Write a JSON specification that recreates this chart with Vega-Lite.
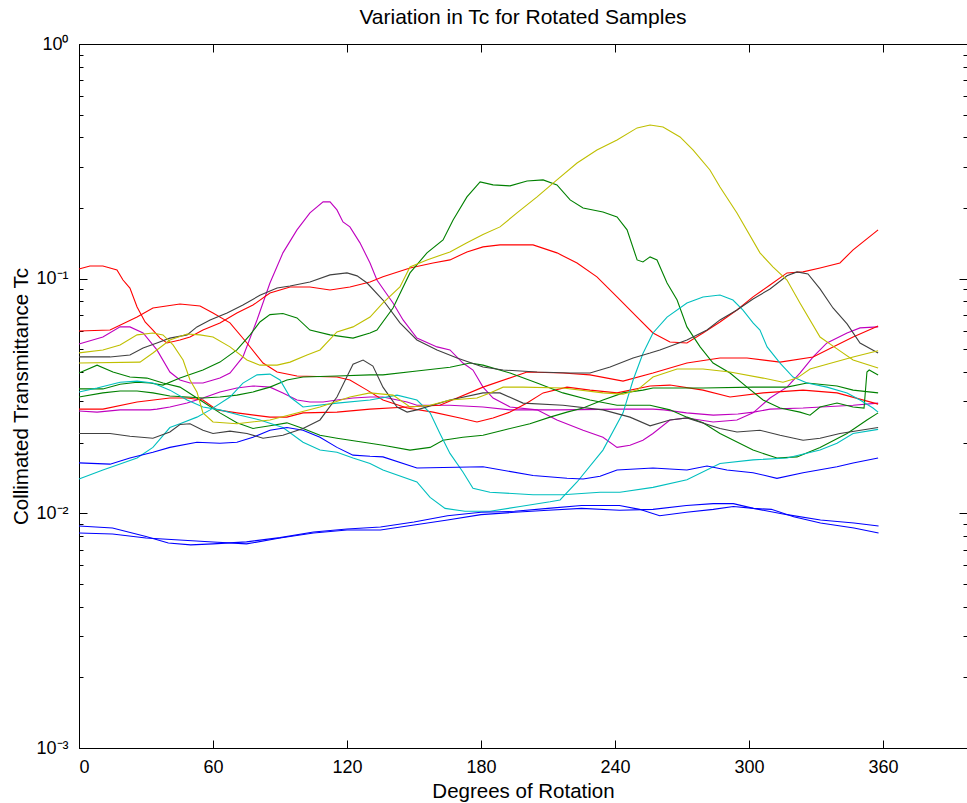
{
"$schema": "https://vega.github.io/schema/vega-lite/v6.json",
"width": 888, "height": 704,
"autosize": {"type": "none"},
"padding": {"left": 79, "top": 44, "right": 0, "bottom": 55},
"background": "white",
"config": {
 "view": {"stroke": "black", "strokeWidth": 1},
 "font": "Liberation Sans",
 "axis": {"grid": false, "domainColor": "black", "tickColor": "black", "labelColor": "black", "titleColor": "black", "labelFont": "Liberation Sans", "titleFont": "Liberation Sans", "labelFontSize": 18, "titleFontSize": 20.5, "titleFontWeight": "normal"}
},
"title": {"text": "Variation in Tc for Rotated Samples", "fontSize": 21, "fontWeight": "normal", "color": "black", "font": "Liberation Sans", "offset": 7},
"datasets": {"d": [
{"s":"m1","x":0,"y":0.0527},{"s":"m1","x":10.7,"y":0.0564},{"s":"m1","x":18.4,"y":0.0623},{"s":"m1","x":22.8,"y":0.0623},{"s":"m1","x":28.7,"y":0.0587},{"s":"m1","x":34.9,"y":0.0497},{"s":"m1","x":40.7,"y":0.04},{"s":"m1","x":45.2,"y":0.037},{"s":"m1","x":49.7,"y":0.0359},{"s":"m1","x":55.5,"y":0.0359},{"s":"m1","x":63.1,"y":0.0377},{"s":"m1","x":67.6,"y":0.0396},{"s":"m1","x":73.4,"y":0.0464},{"s":"m1","x":79.7,"y":0.0667},{"s":"m1","x":85.5,"y":0.0958},{"s":"m1","x":91.3,"y":0.1288},{"s":"m1","x":97.6,"y":0.1614},{"s":"m1","x":103.4,"y":0.1906},{"s":"m1","x":109.3,"y":0.2124},{"s":"m1","x":112.4,"y":0.2124},{"s":"m1","x":115.5,"y":0.1963},{"s":"m1","x":118.2,"y":0.1745},{"s":"m1","x":121.3,"y":0.1662},{"s":"m1","x":125.8,"y":0.1421},{"s":"m1","x":130.3,"y":0.1167},{"s":"m1","x":133.4,"y":0.0987},{"s":"m1","x":140.6,"y":0.0788},{"s":"m1","x":145.1,"y":0.0667},{"s":"m1","x":151.3,"y":0.0558},{"s":"m1","x":160.3,"y":0.0512},{"s":"m1","x":166.1,"y":0.0497},{"s":"m1","x":171.9,"y":0.0437},{"s":"m1","x":176.4,"y":0.0408},{"s":"m1","x":180.9,"y":0.0345},{"s":"m1","x":185.4,"y":0.031},{"s":"m1","x":193,"y":0.0284},{"s":"m1","x":205.1,"y":0.0276},{"s":"m1","x":214,"y":0.025},{"s":"m1","x":225.7,"y":0.0226},{"s":"m1","x":234.6,"y":0.0211},{"s":"m1","x":240.9,"y":0.0191},{"s":"m1","x":246.7,"y":0.0195},{"s":"m1","x":252.5,"y":0.0205},{"s":"m1","x":257,"y":0.0219},{"s":"m1","x":264.6,"y":0.025},{"s":"m1","x":272.2,"y":0.0255},{"s":"m1","x":283.9,"y":0.0245},{"s":"m1","x":294.6,"y":0.025},{"s":"m1","x":301.8,"y":0.0268},{"s":"m1","x":309.4,"y":0.031},{"s":"m1","x":317,"y":0.0345},{"s":"m1","x":322.8,"y":0.0396},{"s":"m1","x":328.7,"y":0.0464},{"s":"m1","x":334.9,"y":0.0532},{"s":"m1","x":343.9,"y":0.0587},{"s":"m1","x":349.7,"y":0.0617},{"s":"m1","x":357.8,"y":0.0623},
{"s":"m2","x":0,"y":0.0273},{"s":"m2","x":8.1,"y":0.027},{"s":"m2","x":18.4,"y":0.0276},{"s":"m2","x":31.8,"y":0.0276},{"s":"m2","x":34.9,"y":0.0278},{"s":"m2","x":40.7,"y":0.0284},{"s":"m2","x":48.4,"y":0.0295},{"s":"m2","x":55.5,"y":0.031},{"s":"m2","x":63.1,"y":0.0329},{"s":"m2","x":70.7,"y":0.0342},{"s":"m2","x":77.9,"y":0.0349},{"s":"m2","x":85.5,"y":0.0345},{"s":"m2","x":91.3,"y":0.0326},{"s":"m2","x":97.6,"y":0.0304},{"s":"m2","x":103.4,"y":0.0298},{"s":"m2","x":109.3,"y":0.0298},{"s":"m2","x":115.5,"y":0.0304},{"s":"m2","x":122.7,"y":0.031},{"s":"m2","x":130.3,"y":0.0313},{"s":"m2","x":136.1,"y":0.0313},{"s":"m2","x":146.9,"y":0.0298},{"s":"m2","x":151.3,"y":0.0289},{"s":"m2","x":166.1,"y":0.0289},{"s":"m2","x":180.9,"y":0.0284},{"s":"m2","x":193,"y":0.0276},{"s":"m2","x":215,"y":0.0276},{"s":"m2","x":242.2,"y":0.0278},{"s":"m2","x":257,"y":0.0278},{"s":"m2","x":262,"y":0.0276},{"s":"m2","x":272,"y":0.0268},{"s":"m2","x":284,"y":0.0262},{"s":"m2","x":295,"y":0.0265},{"s":"m2","x":302,"y":0.027},{"s":"m2","x":309.4,"y":0.0278},{"s":"m2","x":324.2,"y":0.0281},{"s":"m2","x":346.6,"y":0.0289},{"s":"m2","x":357.8,"y":0.0295},
{"s":"r1","x":0,"y":0.11},{"s":"r1","x":4.9,"y":0.1133},{"s":"r1","x":10.7,"y":0.1133},{"s":"r1","x":13.9,"y":0.1111},{"s":"r1","x":17,"y":0.109},{"s":"r1","x":19.7,"y":0.0987},{"s":"r1","x":22.8,"y":0.0912},{"s":"r1","x":26,"y":0.0757},{"s":"r1","x":29.6,"y":0.0654},{"s":"r1","x":33.1,"y":0.0604},{"s":"r1","x":36.3,"y":0.0558},{"s":"r1","x":39.4,"y":0.0532},{"s":"r1","x":45.2,"y":0.0548},{"s":"r1","x":49.7,"y":0.0564},{"s":"r1","x":55.5,"y":0.0604},{"s":"r1","x":63.1,"y":0.0648},{"s":"r1","x":70.7,"y":0.0714},{"s":"r1","x":77.9,"y":0.0772},{"s":"r1","x":85.5,"y":0.0869},{"s":"r1","x":94.5,"y":0.0922},{"s":"r1","x":103.4,"y":0.0922},{"s":"r1","x":112.4,"y":0.0895},{"s":"r1","x":121.3,"y":0.0922},{"s":"r1","x":130.3,"y":0.0968},{"s":"r1","x":136.1,"y":0.1018},{"s":"r1","x":148.2,"y":0.1111},{"s":"r1","x":158.5,"y":0.1167},{"s":"r1","x":166.1,"y":0.1202},{"s":"r1","x":173.7,"y":0.13},{"s":"r1","x":180.9,"y":0.1366},{"s":"r1","x":188.5,"y":0.1393},{"s":"r1","x":203.3,"y":0.1393},{"s":"r1","x":214,"y":0.1288},{"s":"r1","x":223,"y":0.1167},{"s":"r1","x":231.9,"y":0.1018},{"s":"r1","x":240.9,"y":0.0836},{"s":"r1","x":249.9,"y":0.0686},{"s":"r1","x":257,"y":0.0587},{"s":"r1","x":264.6,"y":0.0537},{"s":"r1","x":272.2,"y":0.0532},{"s":"r1","x":279.4,"y":0.0587},{"s":"r1","x":287,"y":0.0654},{"s":"r1","x":294.6,"y":0.0735},{"s":"r1","x":301.8,"y":0.0836},{"s":"r1","x":309.4,"y":0.094},{"s":"r1","x":317,"y":0.1058},{"s":"r1","x":324.2,"y":0.1069},{"s":"r1","x":331.8,"y":0.1111},{"s":"r1","x":340.7,"y":0.1167},{"s":"r1","x":346.6,"y":0.1326},{"s":"r1","x":357.8,"y":0.1614},
{"s":"r2","x":0,"y":0.0598},{"s":"r2","x":13.9,"y":0.0604},{"s":"r2","x":26,"y":0.0686},{"s":"r2","x":33.1,"y":0.075},{"s":"r2","x":45.2,"y":0.078},{"s":"r2","x":54.2,"y":0.0765},{"s":"r2","x":60,"y":0.0714},{"s":"r2","x":67.6,"y":0.0648},{"s":"r2","x":75.2,"y":0.0532},{"s":"r2","x":82.4,"y":0.0437},{"s":"r2","x":88.7,"y":0.04},{"s":"r2","x":97.6,"y":0.0385},{"s":"r2","x":115.5,"y":0.0381},{"s":"r2","x":121.3,"y":0.037},{"s":"r2","x":129,"y":0.0335},{"s":"r2","x":136.1,"y":0.0304},{"s":"r2","x":146.9,"y":0.0281},{"s":"r2","x":158.5,"y":0.027},{"s":"r2","x":170.6,"y":0.0255},{"s":"r2","x":178.2,"y":0.0245},{"s":"r2","x":185.4,"y":0.0255},{"s":"r2","x":193,"y":0.027},{"s":"r2","x":200.6,"y":0.0295},{"s":"r2","x":207.8,"y":0.0326},{"s":"r2","x":218.5,"y":0.0345},{"s":"r2","x":228.8,"y":0.0335},{"s":"r2","x":240.9,"y":0.0326},{"s":"r2","x":255.7,"y":0.0349},{"s":"r2","x":264.6,"y":0.0352},{"s":"r2","x":279.4,"y":0.0335},{"s":"r2","x":291.5,"y":0.0313},{"s":"r2","x":306.3,"y":0.0326},{"s":"r2","x":324.2,"y":0.0335},{"s":"r2","x":339.4,"y":0.0326},{"s":"r2","x":357.8,"y":0.0292},
{"s":"r3","x":0,"y":0.0278},{"s":"r3","x":10.7,"y":0.0278},{"s":"r3","x":26,"y":0.0298},{"s":"r3","x":40.7,"y":0.031},{"s":"r3","x":48.4,"y":0.031},{"s":"r3","x":55.5,"y":0.0304},{"s":"r3","x":61.8,"y":0.0276},{"s":"r3","x":70.7,"y":0.0268},{"s":"r3","x":85.5,"y":0.0257},{"s":"r3","x":93.1,"y":0.0257},{"s":"r3","x":100.3,"y":0.0268},{"s":"r3","x":115.5,"y":0.027},{"s":"r3","x":130.3,"y":0.0278},{"s":"r3","x":146.9,"y":0.0284},{"s":"r3","x":161.6,"y":0.0289},{"s":"r3","x":180.9,"y":0.0345},{"s":"r3","x":200.6,"y":0.04},{"s":"r3","x":216.7,"y":0.0396},{"s":"r3","x":228.8,"y":0.0389},{"s":"r3","x":243.6,"y":0.0366},{"s":"r3","x":257,"y":0.0396},{"s":"r3","x":272.2,"y":0.0437},{"s":"r3","x":287,"y":0.0459},{"s":"r3","x":299.1,"y":0.0459},{"s":"r3","x":313.9,"y":0.0441},{"s":"r3","x":328.7,"y":0.0464},{"s":"r3","x":337.6,"y":0.0512},{"s":"r3","x":346.6,"y":0.0564},{"s":"r3","x":357.8,"y":0.0629},
{"s":"g2","x":0,"y":0.0339},{"s":"g2","x":10.7,"y":0.0339},{"s":"g2","x":18.4,"y":0.0355},{"s":"g2","x":26,"y":0.0362},{"s":"g2","x":31.8,"y":0.0359},{"s":"g2","x":37.6,"y":0.0352},{"s":"g2","x":45.2,"y":0.0377},{"s":"g2","x":55.5,"y":0.0408},{"s":"g2","x":63.1,"y":0.0441},{"s":"g2","x":70.7,"y":0.0497},{"s":"g2","x":76.6,"y":0.0576},{"s":"g2","x":81,"y":0.0654},{"s":"g2","x":85.5,"y":0.0703},{"s":"g2","x":91.3,"y":0.071},{"s":"g2","x":97.6,"y":0.068},{"s":"g2","x":103.4,"y":0.0604},{"s":"g2","x":112.4,"y":0.0576},{"s":"g2","x":122.7,"y":0.0558},{"s":"g2","x":130.3,"y":0.0587},{"s":"g2","x":133.4,"y":0.0604},{"s":"g2","x":140.6,"y":0.075},{"s":"g2","x":148.2,"y":0.1058},{"s":"g2","x":155.8,"y":0.1288},{"s":"g2","x":163,"y":0.1463},{"s":"g2","x":167.5,"y":0.178},{"s":"g2","x":173.7,"y":0.223},{"s":"g2","x":179.6,"y":0.2584},{"s":"g2","x":185.4,"y":0.251},{"s":"g2","x":193,"y":0.2486},{"s":"g2","x":200.6,"y":0.2609},{"s":"g2","x":207.8,"y":0.2635},{"s":"g2","x":214,"y":0.251},{"s":"g2","x":219.9,"y":0.2166},{"s":"g2","x":225.7,"y":0.2002},{"s":"g2","x":234.6,"y":0.1925},{"s":"g2","x":240.9,"y":0.1833},{"s":"g2","x":245.4,"y":0.1614},{"s":"g2","x":249.9,"y":0.1202},{"s":"g2","x":252.5,"y":0.1178},{"s":"g2","x":255.7,"y":0.1238},{"s":"g2","x":258.8,"y":0.1202},{"s":"g2","x":263.3,"y":0.0958},{"s":"g2","x":267.8,"y":0.0811},{"s":"g2","x":272.2,"y":0.0623},{"s":"g2","x":278.1,"y":0.0512},{"s":"g2","x":283.9,"y":0.0437},{"s":"g2","x":291.5,"y":0.0396},{"s":"g2","x":299.1,"y":0.0345},{"s":"g2","x":306.3,"y":0.0304},{"s":"g2","x":313.9,"y":0.0281},{"s":"g2","x":322.8,"y":0.027},{"s":"g2","x":327.3,"y":0.0262},{"s":"g2","x":331.8,"y":0.0284},{"s":"g2","x":339.4,"y":0.0295},{"s":"g2","x":346.6,"y":0.0284},{"s":"g2","x":351.5,"y":0.0281},{"s":"g2","x":352.8,"y":0.04},{"s":"g2","x":353.8,"y":0.0408},{"s":"g2","x":357.8,"y":0.0389},
{"s":"g1","x":0,"y":0.0396},{"s":"g1","x":8.1,"y":0.0428},{"s":"g1","x":15.2,"y":0.04},{"s":"g1","x":22.8,"y":0.0381},{"s":"g1","x":30.4,"y":0.0377},{"s":"g1","x":37.6,"y":0.0359},{"s":"g1","x":45.2,"y":0.0345},{"s":"g1","x":54.2,"y":0.0304},{"s":"g1","x":63.1,"y":0.0268},{"s":"g1","x":70.7,"y":0.0243},{"s":"g1","x":77.9,"y":0.023},{"s":"g1","x":85.5,"y":0.0236},{"s":"g1","x":93.1,"y":0.0243},{"s":"g1","x":100.3,"y":0.023},{"s":"g1","x":107.9,"y":0.0215},{"s":"g1","x":115.5,"y":0.0209},{"s":"g1","x":130.3,"y":0.0199},{"s":"g1","x":136.1,"y":0.0195},{"s":"g1","x":148.2,"y":0.0186},{"s":"g1","x":157.2,"y":0.0191},{"s":"g1","x":163,"y":0.0205},{"s":"g1","x":171.9,"y":0.0211},{"s":"g1","x":180.9,"y":0.0215},{"s":"g1","x":189.9,"y":0.0226},{"s":"g1","x":201.9,"y":0.0241},{"s":"g1","x":210.9,"y":0.0257},{"s":"g1","x":218.5,"y":0.027},{"s":"g1","x":225.7,"y":0.0281},{"s":"g1","x":234.6,"y":0.0304},{"s":"g1","x":243.6,"y":0.0326},{"s":"g1","x":252.5,"y":0.0335},{"s":"g1","x":257,"y":0.0342},{"s":"g1","x":279.4,"y":0.0342},{"s":"g1","x":301.8,"y":0.0345},{"s":"g1","x":317,"y":0.0345},{"s":"g1","x":326,"y":0.0359},{"s":"g1","x":339.4,"y":0.0349},{"s":"g1","x":346.6,"y":0.0335},{"s":"g1","x":357.8,"y":0.0326},
{"s":"g3","x":0,"y":0.0313},{"s":"g3","x":10.7,"y":0.0326},{"s":"g3","x":18.4,"y":0.0332},{"s":"g3","x":26,"y":0.0332},{"s":"g3","x":33.1,"y":0.0326},{"s":"g3","x":40.7,"y":0.0316},{"s":"g3","x":48.4,"y":0.0313},{"s":"g3","x":55.5,"y":0.031},{"s":"g3","x":63.1,"y":0.0313},{"s":"g3","x":70.7,"y":0.0319},{"s":"g3","x":77.9,"y":0.0329},{"s":"g3","x":85.5,"y":0.0345},{"s":"g3","x":93.1,"y":0.037},{"s":"g3","x":100.3,"y":0.0381},{"s":"g3","x":115.5,"y":0.0385},{"s":"g3","x":130.3,"y":0.0389},{"s":"g3","x":136.1,"y":0.0389},{"s":"g3","x":151.3,"y":0.0404},{"s":"g3","x":166.1,"y":0.0419},{"s":"g3","x":175.1,"y":0.0437},{"s":"g3","x":180.9,"y":0.0428},{"s":"g3","x":193,"y":0.0396},{"s":"g3","x":205.1,"y":0.0359},{"s":"g3","x":216.7,"y":0.0326},{"s":"g3","x":228.8,"y":0.0304},{"s":"g3","x":240.9,"y":0.0289},{"s":"g3","x":255.7,"y":0.0289},{"s":"g3","x":264.6,"y":0.0276},{"s":"g3","x":272.2,"y":0.0257},{"s":"g3","x":279.4,"y":0.0243},{"s":"g3","x":287,"y":0.0219},{"s":"g3","x":301.8,"y":0.0186},{"s":"g3","x":312.5,"y":0.0172},{"s":"g3","x":321.5,"y":0.0174},{"s":"g3","x":331.8,"y":0.0191},{"s":"g3","x":343.9,"y":0.0219},{"s":"g3","x":352.8,"y":0.025},{"s":"g3","x":357.8,"y":0.0268},
{"s":"c1","x":0,"y":0.0329},{"s":"c1","x":8.1,"y":0.0342},{"s":"c1","x":18.4,"y":0.0362},{"s":"c1","x":26,"y":0.0366},{"s":"c1","x":33.1,"y":0.0359},{"s":"c1","x":40.7,"y":0.0335},{"s":"c1","x":48.4,"y":0.0304},{"s":"c1","x":55.5,"y":0.0284},{"s":"c1","x":63.1,"y":0.0276},{"s":"c1","x":72.1,"y":0.0262},{"s":"c1","x":81,"y":0.025},{"s":"c1","x":91.3,"y":0.0232},{"s":"c1","x":100.3,"y":0.0201},{"s":"c1","x":107.9,"y":0.0186},{"s":"c1","x":115.5,"y":0.0182},{"s":"c1","x":122.7,"y":0.0172},{"s":"c1","x":130.3,"y":0.0163},{"s":"c1","x":136.1,"y":0.0153},{"s":"c1","x":151.3,"y":0.0136},{"s":"c1","x":157.2,"y":0.0117},{"s":"c1","x":163.9,"y":0.0105},{"s":"c1","x":172.8,"y":0.0102},{"s":"c1","x":184,"y":0.0102},{"s":"c1","x":197.5,"y":0.0107},{"s":"c1","x":210.9,"y":0.0112},{"s":"c1","x":215.4,"y":0.0114},{"s":"c1","x":223,"y":0.0136},{"s":"c1","x":234.6,"y":0.0186},{"s":"c1","x":243.6,"y":0.0268},{"s":"c1","x":248.1,"y":0.037},{"s":"c1","x":252.5,"y":0.048},{"s":"c1","x":257,"y":0.0587},{"s":"c1","x":263.3,"y":0.0686},{"s":"c1","x":272.2,"y":0.0788},{"s":"c1","x":279.4,"y":0.0836},{"s":"c1","x":287,"y":0.0852},{"s":"c1","x":292.8,"y":0.0811},{"s":"c1","x":297.3,"y":0.0735},{"s":"c1","x":301.8,"y":0.0648},{"s":"c1","x":304.9,"y":0.0604},{"s":"c1","x":308.1,"y":0.0512},{"s":"c1","x":313.9,"y":0.0437},{"s":"c1","x":319.7,"y":0.0381},{"s":"c1","x":326,"y":0.0359},{"s":"c1","x":334.9,"y":0.0345},{"s":"c1","x":343.9,"y":0.0326},{"s":"c1","x":349.7,"y":0.0304},{"s":"c1","x":355.5,"y":0.0281},{"s":"c1","x":357.8,"y":0.027},
{"s":"c2","x":0,"y":0.014},{"s":"c2","x":10.7,"y":0.0153},{"s":"c2","x":26,"y":0.0172},{"s":"c2","x":33.1,"y":0.0191},{"s":"c2","x":40.7,"y":0.0232},{"s":"c2","x":45.2,"y":0.0241},{"s":"c2","x":52.8,"y":0.0257},{"s":"c2","x":58.7,"y":0.0276},{"s":"c2","x":67.6,"y":0.0313},{"s":"c2","x":73.4,"y":0.0359},{"s":"c2","x":79.7,"y":0.0389},{"s":"c2","x":85.5,"y":0.0392},{"s":"c2","x":90,"y":0.037},{"s":"c2","x":94.5,"y":0.0313},{"s":"c2","x":100.3,"y":0.0284},{"s":"c2","x":115.5,"y":0.0295},{"s":"c2","x":130.3,"y":0.0304},{"s":"c2","x":142.4,"y":0.0319},{"s":"c2","x":151.3,"y":0.0304},{"s":"c2","x":157.2,"y":0.0268},{"s":"c2","x":161.6,"y":0.0219},{"s":"c2","x":166.1,"y":0.018},{"s":"c2","x":171.9,"y":0.015},{"s":"c2","x":176.4,"y":0.0128},{"s":"c2","x":184,"y":0.0123},{"s":"c2","x":203.3,"y":0.012},{"s":"c2","x":216.7,"y":0.012},{"s":"c2","x":233.3,"y":0.0123},{"s":"c2","x":242.2,"y":0.0123},{"s":"c2","x":257,"y":0.0129},{"s":"c2","x":272.2,"y":0.0139},{"s":"c2","x":287,"y":0.0163},{"s":"c2","x":301.8,"y":0.0169},{"s":"c2","x":317,"y":0.0172},{"s":"c2","x":331.8,"y":0.0186},{"s":"c2","x":339.4,"y":0.0199},{"s":"c2","x":346.6,"y":0.0219},{"s":"c2","x":357.8,"y":0.0228},
{"s":"b1","x":0,"y":0.0164},{"s":"b1","x":13.9,"y":0.0162},{"s":"b1","x":22.8,"y":0.0172},{"s":"b1","x":33.1,"y":0.0182},{"s":"b1","x":40.7,"y":0.0191},{"s":"b1","x":52.8,"y":0.0201},{"s":"b1","x":63.1,"y":0.0199},{"s":"b1","x":70.7,"y":0.0201},{"s":"b1","x":77.9,"y":0.0211},{"s":"b1","x":85.5,"y":0.0226},{"s":"b1","x":93.1,"y":0.0232},{"s":"b1","x":100.3,"y":0.0226},{"s":"b1","x":107.9,"y":0.0211},{"s":"b1","x":115.5,"y":0.0191},{"s":"b1","x":122.7,"y":0.0177},{"s":"b1","x":130.3,"y":0.0175},{"s":"b1","x":136.1,"y":0.0174},{"s":"b1","x":151.3,"y":0.0156},{"s":"b1","x":180.9,"y":0.0158},{"s":"b1","x":203.3,"y":0.0145},{"s":"b1","x":218.5,"y":0.0141},{"s":"b1","x":225.7,"y":0.014},{"s":"b1","x":233.3,"y":0.0144},{"s":"b1","x":240.9,"y":0.0153},{"s":"b1","x":257,"y":0.0156},{"s":"b1","x":272.2,"y":0.0153},{"s":"b1","x":281.2,"y":0.0159},{"s":"b1","x":290.1,"y":0.0153},{"s":"b1","x":301.8,"y":0.0149},{"s":"b1","x":312.5,"y":0.0141},{"s":"b1","x":324.2,"y":0.0149},{"s":"b1","x":339.4,"y":0.0158},{"s":"b1","x":346.6,"y":0.0164},{"s":"b1","x":357.8,"y":0.0172},
{"s":"b2","x":0,"y":0.00883},{"s":"b2","x":15,"y":0.00866},{"s":"b2","x":30,"y":0.00796},{"s":"b2","x":40,"y":0.00748},{"s":"b2","x":50,"y":0.00734},{"s":"b2","x":60,"y":0.00741},{"s":"b2","x":75,"y":0.00756},{"s":"b2","x":90,"y":0.00788},{"s":"b2","x":105,"y":0.00833},{"s":"b2","x":120,"y":0.00858},{"s":"b2","x":135,"y":0.00875},{"s":"b2","x":150,"y":0.00919},{"s":"b2","x":165,"y":0.00977},{"s":"b2","x":180,"y":0.0101},{"s":"b2","x":195,"y":0.0102},{"s":"b2","x":210,"y":0.0105},{"s":"b2","x":225,"y":0.0108},{"s":"b2","x":242,"y":0.0108},{"s":"b2","x":251,"y":0.0104},{"s":"b2","x":260,"y":0.00977},{"s":"b2","x":272,"y":0.0101},{"s":"b2","x":284,"y":0.0104},{"s":"b2","x":293,"y":0.0107},{"s":"b2","x":302,"y":0.0105},{"s":"b2","x":310,"y":0.0104},{"s":"b2","x":320,"y":0.00967},{"s":"b2","x":332,"y":0.0091},{"s":"b2","x":347,"y":0.00866},{"s":"b2","x":358,"y":0.00824},
{"s":"b3","x":0,"y":0.00824},{"s":"b3","x":15,"y":0.00816},{"s":"b3","x":30,"y":0.00785},{"s":"b3","x":45,"y":0.0077},{"s":"b3","x":60,"y":0.00755},{"s":"b3","x":75,"y":0.00741},{"s":"b3","x":90,"y":0.00785},{"s":"b3","x":105,"y":0.00824},{"s":"b3","x":120,"y":0.00849},{"s":"b3","x":135,"y":0.00849},{"s":"b3","x":150,"y":0.00892},{"s":"b3","x":165,"y":0.00937},{"s":"b3","x":180,"y":0.00987},{"s":"b3","x":195,"y":0.0101},{"s":"b3","x":210,"y":0.0103},{"s":"b3","x":225,"y":0.0105},{"s":"b3","x":242,"y":0.0103},{"s":"b3","x":257,"y":0.0104},{"s":"b3","x":272,"y":0.0108},{"s":"b3","x":284,"y":0.011},{"s":"b3","x":293,"y":0.011},{"s":"b3","x":302,"y":0.0105},{"s":"b3","x":317,"y":0.00987},{"s":"b3","x":332,"y":0.00937},{"s":"b3","x":347,"y":0.0091},{"s":"b3","x":358,"y":0.00883},
{"s":"k1","x":0,"y":0.0464},{"s":"k1","x":13.9,"y":0.0464},{"s":"k1","x":22.8,"y":0.0473},{"s":"k1","x":28.7,"y":0.0507},{"s":"k1","x":34.9,"y":0.0532},{"s":"k1","x":40.7,"y":0.0558},{"s":"k1","x":48.4,"y":0.0576},{"s":"k1","x":52.8,"y":0.0623},{"s":"k1","x":58.7,"y":0.0667},{"s":"k1","x":66.3,"y":0.0714},{"s":"k1","x":73.4,"y":0.0772},{"s":"k1","x":81,"y":0.0849},{"s":"k1","x":88.7,"y":0.0912},{"s":"k1","x":94.5,"y":0.0931},{"s":"k1","x":103.4,"y":0.0968},{"s":"k1","x":112.4,"y":0.1038},{"s":"k1","x":120,"y":0.1058},{"s":"k1","x":124.5,"y":0.1028},{"s":"k1","x":129,"y":0.0958},{"s":"k1","x":136.1,"y":0.0811},{"s":"k1","x":143.7,"y":0.0648},{"s":"k1","x":151.3,"y":0.0548},{"s":"k1","x":160.3,"y":0.0497},{"s":"k1","x":169.3,"y":0.0459},{"s":"k1","x":180.9,"y":0.042},{"s":"k1","x":189.9,"y":0.0408},{"s":"k1","x":205.1,"y":0.04},{"s":"k1","x":219.9,"y":0.0396},{"s":"k1","x":228.8,"y":0.0396},{"s":"k1","x":237.8,"y":0.042},{"s":"k1","x":248.1,"y":0.0459},{"s":"k1","x":255.7,"y":0.0482},{"s":"k1","x":260.1,"y":0.0497},{"s":"k1","x":272.2,"y":0.0548},{"s":"k1","x":281.2,"y":0.0604},{"s":"k1","x":287,"y":0.0667},{"s":"k1","x":294.6,"y":0.0735},{"s":"k1","x":301.8,"y":0.0819},{"s":"k1","x":309.4,"y":0.0904},{"s":"k1","x":317,"y":0.1028},{"s":"k1","x":321.5,"y":0.1069},{"s":"k1","x":326.4,"y":0.1048},{"s":"k1","x":331.8,"y":0.0904},{"s":"k1","x":337.6,"y":0.075},{"s":"k1","x":343.9,"y":0.0642},{"s":"k1","x":349.7,"y":0.0532},{"s":"k1","x":357.8,"y":0.0482},
{"s":"k2","x":0,"y":0.0219},{"s":"k2","x":13.9,"y":0.0219},{"s":"k2","x":22.8,"y":0.0213},{"s":"k2","x":33.1,"y":0.0209},{"s":"k2","x":40.7,"y":0.0222},{"s":"k2","x":45.2,"y":0.0239},{"s":"k2","x":49.7,"y":0.0241},{"s":"k2","x":55.5,"y":0.0226},{"s":"k2","x":60,"y":0.0219},{"s":"k2","x":67.6,"y":0.0224},{"s":"k2","x":75.2,"y":0.0219},{"s":"k2","x":82.4,"y":0.0209},{"s":"k2","x":91.3,"y":0.0215},{"s":"k2","x":100.3,"y":0.023},{"s":"k2","x":107.9,"y":0.025},{"s":"k2","x":115.5,"y":0.0313},{"s":"k2","x":122.7,"y":0.0432},{"s":"k2","x":127.2,"y":0.045},{"s":"k2","x":131.6,"y":0.0424},{"s":"k2","x":136.1,"y":0.0345},{"s":"k2","x":142.4,"y":0.0284},{"s":"k2","x":146.9,"y":0.027},{"s":"k2","x":151.3,"y":0.0276},{"s":"k2","x":166.1,"y":0.0304},{"s":"k2","x":180.9,"y":0.0326},{"s":"k2","x":188.5,"y":0.0326},{"s":"k2","x":198.8,"y":0.0295},{"s":"k2","x":216.7,"y":0.0289},{"s":"k2","x":234.6,"y":0.0276},{"s":"k2","x":246.7,"y":0.0257},{"s":"k2","x":255.7,"y":0.0236},{"s":"k2","x":264.6,"y":0.025},{"s":"k2","x":272.2,"y":0.0255},{"s":"k2","x":287,"y":0.023},{"s":"k2","x":294.6,"y":0.0222},{"s":"k2","x":304.9,"y":0.0226},{"s":"k2","x":313.9,"y":0.0215},{"s":"k2","x":324.2,"y":0.0205},{"s":"k2","x":331.8,"y":0.0209},{"s":"k2","x":340.7,"y":0.0219},{"s":"k2","x":357.8,"y":0.0232},
{"s":"y1","x":0,"y":0.0483},{"s":"y1","x":10.7,"y":0.0497},{"s":"y1","x":18.4,"y":0.0522},{"s":"y1","x":26,"y":0.0576},{"s":"y1","x":33.1,"y":0.0587},{"s":"y1","x":37.6,"y":0.0576},{"s":"y1","x":42.1,"y":0.0522},{"s":"y1","x":46.6,"y":0.045},{"s":"y1","x":49.7,"y":0.037},{"s":"y1","x":52.8,"y":0.0329},{"s":"y1","x":55.5,"y":0.0268},{"s":"y1","x":60,"y":0.0245},{"s":"y1","x":70.7,"y":0.0241},{"s":"y1","x":85.5,"y":0.025},{"s":"y1","x":107.9,"y":0.0284},{"s":"y1","x":121.3,"y":0.0313},{"s":"y1","x":130.3,"y":0.0326},{"s":"y1","x":140.6,"y":0.0319},{"s":"y1","x":148.2,"y":0.0284},{"s":"y1","x":157.2,"y":0.0289},{"s":"y1","x":166.1,"y":0.0304},{"s":"y1","x":178.2,"y":0.031},{"s":"y1","x":184,"y":0.0326},{"s":"y1","x":189.9,"y":0.0345},{"s":"y1","x":198.8,"y":0.0345},{"s":"y1","x":216.7,"y":0.0342},{"s":"y1","x":234.6,"y":0.0326},{"s":"y1","x":243.6,"y":0.0322},{"s":"y1","x":249.9,"y":0.0335},{"s":"y1","x":257,"y":0.0381},{"s":"y1","x":267.8,"y":0.0412},{"s":"y1","x":279.4,"y":0.0412},{"s":"y1","x":291.5,"y":0.04},{"s":"y1","x":306.3,"y":0.0377},{"s":"y1","x":315.2,"y":0.0362},{"s":"y1","x":321.5,"y":0.0377},{"s":"y1","x":327.3,"y":0.0412},{"s":"y1","x":334.9,"y":0.0432},{"s":"y1","x":346.6,"y":0.0464},{"s":"y1","x":357.8,"y":0.0493},
{"s":"y2","x":0,"y":0.0437},{"s":"y2","x":27.3,"y":0.0441},{"s":"y2","x":33.1,"y":0.0482},{"s":"y2","x":40.7,"y":0.0548},{"s":"y2","x":48.4,"y":0.0581},{"s":"y2","x":54.2,"y":0.0576},{"s":"y2","x":60,"y":0.0564},{"s":"y2","x":67.6,"y":0.0512},{"s":"y2","x":75.2,"y":0.045},{"s":"y2","x":81,"y":0.0428},{"s":"y2","x":88.7,"y":0.0428},{"s":"y2","x":94.5,"y":0.0441},{"s":"y2","x":102.1,"y":0.0473},{"s":"y2","x":107.9,"y":0.0497},{"s":"y2","x":115.5,"y":0.0593},{"s":"y2","x":122.7,"y":0.0623},{"s":"y2","x":130.3,"y":0.0686},{"s":"y2","x":136.1,"y":0.0788},{"s":"y2","x":143.7,"y":0.0922},{"s":"y2","x":148.2,"y":0.1121},{"s":"y2","x":155.8,"y":0.1202},{"s":"y2","x":166.1,"y":0.13},{"s":"y2","x":173.7,"y":0.1421},{"s":"y2","x":180.9,"y":0.1541},{"s":"y2","x":188.5,"y":0.1662},{"s":"y2","x":196.1,"y":0.1906},{"s":"y2","x":205.1,"y":0.223},{"s":"y2","x":214,"y":0.2635},{"s":"y2","x":223,"y":0.3112},{"s":"y2","x":231.9,"y":0.3536},{"s":"y2","x":240.9,"y":0.39},{"s":"y2","x":249.9,"y":0.439},{"s":"y2","x":255.7,"y":0.4519},{"s":"y2","x":261.5,"y":0.4432},{"s":"y2","x":269.1,"y":0.4018},{"s":"y2","x":274.9,"y":0.3536},{"s":"y2","x":282.5,"y":0.2906},{"s":"y2","x":287,"y":0.246},{"s":"y2","x":294.6,"y":0.1906},{"s":"y2","x":304.9,"y":0.1288},{"s":"y2","x":310.7,"y":0.1123},{"s":"y2","x":317,"y":0.0987},{"s":"y2","x":322.8,"y":0.0788},{"s":"y2","x":331.8,"y":0.0564},{"s":"y2","x":339.4,"y":0.0502},{"s":"y2","x":346.6,"y":0.045},{"s":"y2","x":357.8,"y":0.0416}
]},
"data": {"name": "d"},
"layer": [
 {"mark": {"type": "line", "strokeWidth": 1.1},
  "encoding": {
   "x": {"field": "x", "type": "quantitative", "scale": {"domain": [0, 397.6], "nice": false, "zero": false},
     "axis": {"orient": "bottom", "values": [0,60,120,180,240,300,360], "tickSize": -8, "labelPadding": 18, "title": "Degrees of Rotation", "titlePadding": 5}},
   "y": {"field": "y", "type": "quantitative", "scale": {"type": "log", "domain": [0.001, 1], "nice": false},
     "axis": {"orient": "left", "values": [0.001,0.002,0.003,0.004,0.005,0.006,0.007,0.008,0.009,0.01,0.02,0.03,0.04,0.05,0.06,0.07,0.08,0.09,0.1,0.2,0.3,0.4,0.5,0.6,0.7,0.8,0.9,1],
       "labelExpr": "datum.value==1?'10⁰':datum.value==0.1?'10⁻¹':datum.value==0.01?'10⁻²':datum.value==0.001?'10⁻³':''",
       "tickSize": {"condition": {"test": "datum.value==1||datum.value==0.1||datum.value==0.01||datum.value==0.001", "value": -8}, "value": -4},
       "labelPadding": 19, "title": "Collimated Transmittance Tc", "titlePadding": 4}},
   "color": {"field": "s", "type": "nominal", "legend": null,
     "scale": {"domain": ["b1","g1","r1","c1","m1","y1","k1","b2","g2","r2","c2","m2","y2","k2","b3","g3","r3"],
       "range": ["#0000FF","#008000","#FF0000","#00BFBF","#BF00BF","#BFBF00","#404040","#0000FF","#008000","#FF0000","#00BFBF","#BF00BF","#BFBF00","#404040","#0000FF","#008000","#FF0000"]}}
  }},
 {"mark": {"type": "line", "opacity": 0},
  "encoding": {
   "x": {"field": "x", "type": "quantitative", "axis": {"orient": "top", "values": [0,60,120,180,240,300,360], "tickSize": -8, "labels": false, "title": null}},
   "y": {"field": "y", "type": "quantitative", "axis": {"orient": "right", "values": [0.001,0.002,0.003,0.004,0.005,0.006,0.007,0.008,0.009,0.01,0.02,0.03,0.04,0.05,0.06,0.07,0.08,0.09,0.1,0.2,0.3,0.4,0.5,0.6,0.7,0.8,0.9,1], "labels": false, "title": null,
       "tickSize": {"condition": {"test": "datum.value==1||datum.value==0.1||datum.value==0.01||datum.value==0.001", "value": -8}, "value": -4}}},
   "detail": {"field": "s"}
  }}
],
"resolve": {"axis": {"x": "independent", "y": "independent"}}
}
